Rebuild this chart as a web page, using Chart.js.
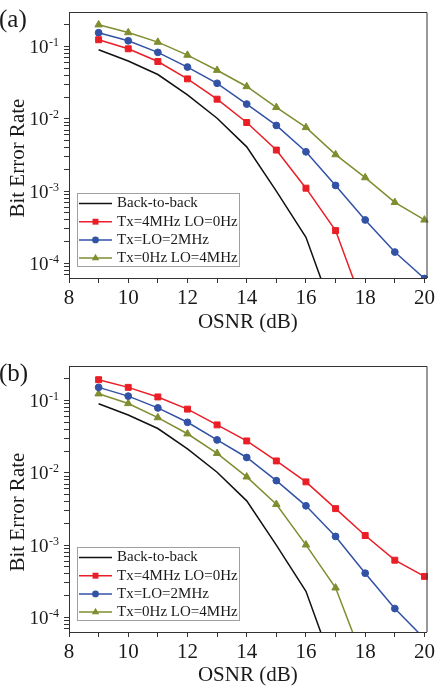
<!DOCTYPE html>
<html>
<head>
<meta charset="utf-8">
<script src="https://cdn.jsdelivr.net/npm/chart.js@4.4.1/dist/chart.umd.min.js"></script>
<style>
  html, body { margin: 0; padding: 0; background: #fff; }
  .panel { width: 438px; height: 344px; }
</style>
</head>
<body>
<div class="panel"><canvas id="chartA" width="438" height="344"></canvas></div>
<div class="panel"><canvas id="chartB" width="438" height="344"></canvas></div>
<script>
// OSNR (dB) values on the x axis
const osnr = [9, 10, 11, 12, 13, 14, 15, 16, 17, 18, 19, 20];
const seriesNames = ['Back-to-back', 'Tx=4MHz LO=0Hz', 'Tx=LO=2MHz', 'Tx=0Hz LO=4MHz'];
const xTickLabels = [8, 10, 12, 14, 16, 18, 20];
const yLabelExps = [-4, -3, -2, -1];

// BER, panel (a)
const b2b = [0.09, 0.063, 0.041, 0.0214, 0.0102, 0.0041, 0.001, 0.00023, 0.000017];
const berA_tx4 = [0.124, 0.093, 0.062, 0.0357, 0.0187, 0.0089, 0.0037, 0.0011, 0.000285, 0.000022];
const berA_lo2 = [0.155, 0.12, 0.083, 0.052, 0.031, 0.016, 0.0081, 0.0035, 0.0012, 0.0004, 0.000144, 0.000062];
const berA_lo4 = [0.2, 0.156, 0.115, 0.076, 0.047, 0.028, 0.0144, 0.0076, 0.0032, 0.00154, 0.0007, 0.0004];

// BER, panel (b)
const berB_tx4 = [0.194, 0.152, 0.112, 0.076, 0.046, 0.0276, 0.0146, 0.0075, 0.0032, 0.00136, 0.00062, 0.00037];
const berB_lo2 = [0.152, 0.115, 0.079, 0.05, 0.0285, 0.0163, 0.0078, 0.0035, 0.00132, 0.00041, 0.000133, 0.000051];
const berB_lo4 = [0.124, 0.091, 0.058, 0.0347, 0.0186, 0.0088, 0.00367, 0.00101, 0.000257, 0.000022];

const colors = ['#111111', 'rgb(234,30,38)', 'rgb(50,82,166)', 'rgb(128,141,48)'];
const markers = [false, 'rect', 'circle', 'triangle'];
const markerSize = [0, 4.2, 3.4, 4.3];
const axisColor = '#333';
const textColor = '#1a1a1a';
const serif = '"Liberation Serif", "Times New Roman", serif';

Chart.defaults.font.family = serif;
Chart.defaults.color = textColor;

// y tick marks: 1..9 x each decade inside the range
const yTickValues = [];
[-5, -4, -3, -2, -1].forEach(e => {
  for (let m = 1; m <= 9; m++) {
    const v = m * Math.pow(10, e);
    if (v >= 6.3e-5 && v <= 0.3) yTickValues.push(v);
  }
});

function drawMarker(ctx, style, x, y, r, color) {
  ctx.fillStyle = color;
  ctx.beginPath();
  if (style === 'rect') {
    const s = r * Math.SQRT1_2;
    ctx.rect(x - s, y - s, 2 * s, 2 * s);
  } else if (style === 'circle') {
    ctx.arc(x, y, r, 0, Math.PI * 2);
  } else if (style === 'triangle') {
    let a = 0;
    ctx.moveTo(x + Math.sin(a) * r, y - Math.cos(a) * r);
    a += Math.PI * 2 / 3;
    ctx.lineTo(x + Math.sin(a) * r, y - Math.cos(a) * r);
    a += Math.PI * 2 / 3;
    ctx.lineTo(x + Math.sin(a) * r, y - Math.cos(a) * r);
    ctx.closePath();
  }
  ctx.fill();
}

// frame, superscript tick labels, panel tag and boxed legend
const panelDecor = {
  id: 'panelDecor',
  afterDraw(chart, args, opts) {
    const { ctx, chartArea: a } = chart;
    const yScale = chart.scales.y;
    ctx.save();

    ctx.strokeStyle = axisColor;
    ctx.lineWidth = 1;
    ctx.beginPath();
    ctx.moveTo(a.left, a.top + 0.5);
    ctx.lineTo(a.right + 0.5, a.top + 0.5);
    ctx.lineTo(a.right + 0.5, a.bottom);
    ctx.stroke();

    ctx.fillStyle = textColor;
    ctx.textAlign = 'right';
    ctx.textBaseline = 'alphabetic';
    yLabelExps.forEach(e => {
      const py = yScale.getPixelForValue(Math.pow(10, e));
      const sup = String(e);
      const xr = a.left - 10;
      ctx.font = '12px ' + serif;
      const sw = ctx.measureText(sup).width;
      ctx.fillText(sup, xr, py - 0.5);
      ctx.font = '19px ' + serif;
      ctx.fillText('10', xr - sw - 0.5, py + 6.5);
    });

    ctx.textAlign = 'left';
    ctx.textBaseline = 'middle';
    ctx.font = '25px ' + serif;
    ctx.fillText(opts.tag, -1, opts.tagY);

    const boxW = 162, boxH = 73, rowH = 18.2;
    const lx = a.left + 8, ly = a.bottom - 12 - boxH;
    ctx.fillStyle = '#fff';
    ctx.fillRect(lx, ly, boxW, boxH);
    ctx.strokeStyle = '#a0a0a0';
    ctx.lineWidth = 1;
    ctx.strokeRect(lx + 0.5, ly + 0.5, boxW, boxH);
    ctx.font = '15px ' + serif;
    chart.data.datasets.forEach((ds, i) => {
      const cy = ly + 10.5 + i * rowH;
      ctx.strokeStyle = ds.borderColor;
      ctx.lineWidth = ds.borderWidth;
      ctx.beginPath();
      ctx.moveTo(lx + 2, cy);
      ctx.lineTo(lx + 35, cy);
      ctx.stroke();
      if (ds.pointStyle) drawMarker(ctx, ds.pointStyle, lx + 18.5, cy, ds.pointRadius, ds.borderColor);
      ctx.fillStyle = textColor;
      ctx.fillText(ds.label, lx + 40, cy);
    });
    ctx.restore();
  }
};

function makeDatasets(seriesList) {
  return seriesList.map((ber, i) => ({
    label: seriesNames[i],
    data: ber.map((v, k) => ({ x: osnr[k], y: v })),
    borderColor: colors[i],
    backgroundColor: colors[i],
    borderWidth: 1.5,
    pointStyle: markers[i],
    pointRadius: markerSize[i],
    pointBackgroundColor: colors[i],
    pointBorderColor: colors[i],
    pointBorderWidth: 1,
    tension: 0,
    clip: { left: 6, top: 6, right: 6, bottom: 0 }
  }));
}

function makeChart(id, seriesList, tag, tagY, topPad, xAxisH, xTitlePad) {
  return new Chart(document.getElementById(id), {
    type: 'line',
    data: { datasets: makeDatasets(seriesList) },
    options: {
      responsive: false,
      animation: false,
      layout: { padding: { top: topPad, right: 10, left: 0, bottom: 0 } },
      plugins: {
        legend: { display: false },
        tooltip: { enabled: false },
        panelDecor: { tag: tag, tagY: tagY }
      },
      scales: {
        x: {
          type: 'linear',
          min: 8,
          max: 20.07,
          border: { color: axisColor, width: 1 },
          grid: { drawOnChartArea: false, drawTicks: true, tickLength: 5, color: axisColor },
          ticks: {
            stepSize: 1,
            includeBounds: false,
            autoSkip: false,
            maxRotation: 0,
            padding: 3,
            color: textColor,
            font: { size: 21 },
            callback: v => xTickLabels.includes(v) ? String(v) : ''
          },
          title: {
            display: true,
            text: 'OSNR (dB)',
            color: textColor,
            font: { size: 21 },
            padding: { top: 0, bottom: xTitlePad }
          },
          afterFit: s => { s.height = xAxisH; }
        },
        y: {
          type: 'logarithmic',
          min: 6.3e-5,
          max: 0.3,
          border: { color: axisColor, width: 1 },
          grid: { drawOnChartArea: false, drawTicks: true, tickLength: 5, color: axisColor },
          ticks: { autoSkip: false, padding: 0, callback: () => '' },
          afterBuildTicks: s => { s.ticks = yTickValues.map(v => ({ value: v })); },
          title: {
            display: true,
            text: 'Bit Error Rate\u00a0\u00a0\u00a0\u00a0\u00a0',
            color: textColor,
            font: { size: 21 },
            padding: { top: 6, bottom: 0 }
          },
          afterFit: s => { s.width = 69; }
        }
      }
    },
    plugins: [panelDecor]
  });
}

makeChart('chartA', [b2b, berA_tx4, berA_lo2, berA_lo4], '(a)', 20, 12, 66, 9);
makeChart('chartB', [b2b, berB_tx4, berB_lo2, berB_lo4], '(b)', 30, 22, 56, 0);
</script>
</body>
</html>
